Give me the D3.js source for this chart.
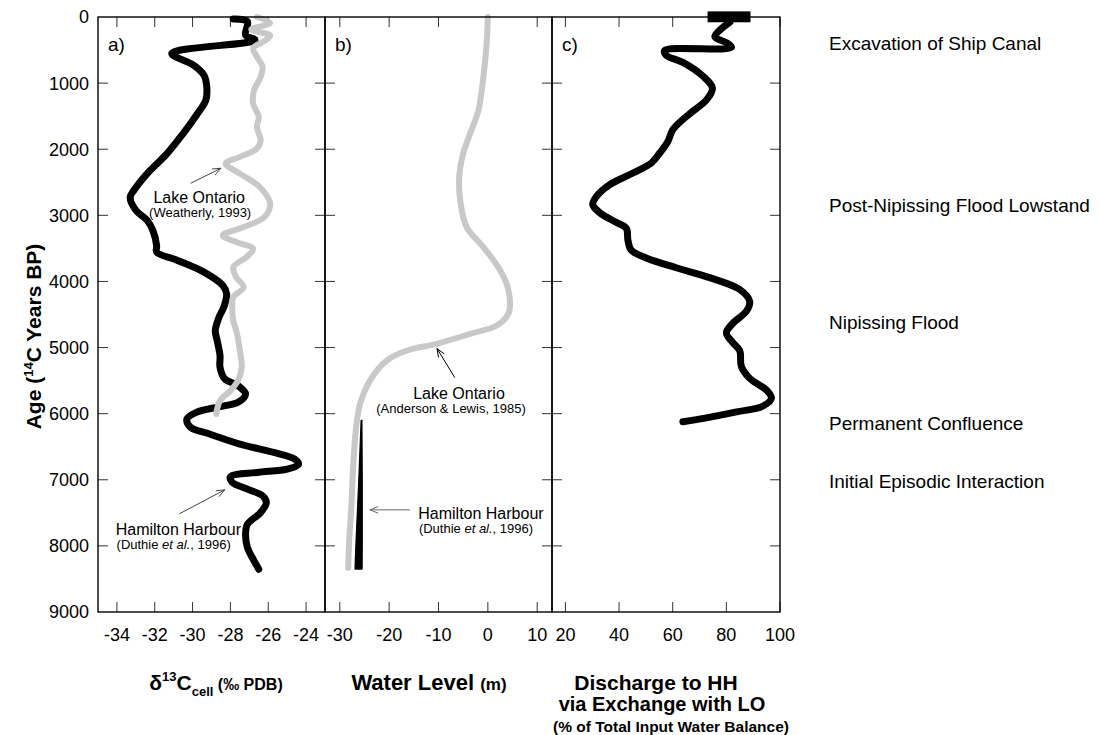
<!DOCTYPE html>
<html>
<head>
<meta charset="utf-8">
<script src="https://cdn.jsdelivr.net/npm/d3@7"></script>
<style>
  html, body { margin: 0; padding: 0; background: #fff; }
  svg { display: block; font-family: "Liberation Sans", Arial, sans-serif; }
</style>
</head>
<body>
<svg id="chart" width="1100" height="735"></svg>
<script>
// ---------------- DATA ----------------
const ageTicks = [0, 1000, 2000, 3000, 4000, 5000, 6000, 7000, 8000, 9000];
const ticksA = [-34, -32, -30, -28, -26, -24];
const ticksB = [-30, -20, -10, 0, 10];
const ticksC = [20, 40, 60, 80, 100];

// Panel a: d13C cell, Hamilton Harbour (Duthie et al., 1996) [age, value]
const hhD13C = [
  [30, -27.85], [70, -27.1], [273, -27.2], [348, -26.7], [550, -31.1], [727, -29.95],
  [879, -29.4], [1060, -29.25], [1258, -29.3], [1485, -29.8], [1763, -30.5],
  [2066, -31.35], [2368, -32.4], [2621, -33.1], [2727, -33.3], [2924, -33.0],
  [3076, -32.4], [3227, -32.1], [3460, -31.9], [3556, -31.9], [3682, -30.8],
  [3859, -29.4], [4061, -28.4], [4187, -28.2], [4389, -28.35], [4540, -28.6],
  [4742, -28.8], [4894, -28.7], [5121, -28.55], [5298, -28.55], [5475, -28.3],
  [5576, -27.6], [5702, -27.2], [5828, -27.6], [5894, -28.55], [5980, -29.8],
  [6081, -30.3], [6207, -30.1], [6308, -29.1], [6460, -27.5], [6586, -25.7],
  [6687, -24.6], [6763, -24.4], [6838, -25.0], [6889, -26.6], [6955, -28.0],
  [7040, -27.9], [7141, -27.1], [7242, -26.3], [7343, -26.1], [7495, -26.4],
  [7672, -27.1], [7823, -27.2], [8025, -27.1], [8202, -26.8], [8353, -26.5]
];
// Panel a: Lake Ontario (Weatherly, 1993) [age, value]
const loD13C = [
  [0, -26.6], [90, -25.9], [190, -26.9], [280, -25.9], [380, -26.3], [470, -26.8], [600, -26.6],
  [753, -26.3], [905, -26.4], [1107, -26.75], [1308, -26.8], [1510, -26.5],
  [1662, -26.6], [1864, -26.4], [1990, -26.6], [2116, -27.5], [2217, -28.25],
  [2369, -27.5], [2571, -26.45], [2823, -25.9], [3025, -26.2], [3177, -27.3],
  [3303, -28.4], [3404, -27.7], [3505, -26.8], [3631, -27.15], [3783, -27.85],
  [3934, -27.7], [4086, -27.3], [4237, -27.85], [4439, -27.9], [4591, -27.85],
  [4793, -27.65], [5045, -27.5], [5298, -27.4], [5500, -27.6], [5652, -28.0],
  [5803, -28.55], [6005, -28.75]
];
// Panel b: water level, Lake Ontario (Anderson & Lewis, 1985) [age, m]
const loLevel = [
  [0, 0], [399, -0.24], [904, -0.9], [1409, -1.9], [1763, -3.6], [2066, -5.0],
  [2419, -5.8], [2773, -5.6], [3177, -4.3], [3480, -0.9], [3783, 2.1], [4035, 3.8],
  [4338, 4.5], [4490, 4.15], [4667, 1.8], [4793, -3.6], [4944, -10.4], [5045, -16.4],
  [5197, -20.5], [5500, -23.9], [5854, -25.9], [6207, -26.7], [6813, -27.3],
  [7318, -27.6], [7924, -28.1], [8328, -28.3]
];
// Panel b: water level, Hamilton Harbour (Duthie et al., 1996) [age, m, half-range m]
const hhLevel = [
  [6100, -25.6, 0.08], [7000, -25.8, 0.35], [8000, -26.1, 0.65], [8350, -26.2, 0.72]
];
// Panel c: discharge to HH via exchange with LO (%) [age, %]
const discharge = [
  [78, 81.3], [299, 75.7], [388, 80.0], [460, 81.9], [508, 57.0], [579, 57.6],
  [687, 63.8], [896, 71.3], [1075, 74.8], [1254, 72.6], [1464, 66.3], [1702, 60.1],
  [1882, 58.2], [2061, 55.1], [2210, 52.0], [2360, 45.2], [2539, 36.4], [2718, 31.5],
  [2838, 30.2], [2957, 32.7], [3106, 38.9], [3196, 42.7], [3375, 43.3], [3524, 44.5],
  [3644, 50.1], [3793, 61.3], [3943, 73.8], [4122, 85.0], [4301, 88.7], [4450, 87.5],
  [4630, 82.5], [4779, 80.0], [4928, 82.5], [5048, 85.0], [5287, 85.6], [5466, 88.7],
  [5645, 95.0], [5765, 96.8], [5884, 93.7], [5974, 83.8], [6063, 72.6], [6123, 63.8]
];
// Panel c: modern (ship canal) range at age 0: [fromPct, toPct, ageTop, ageBottom]
const modernRange = [73, 89, -85, 80];

// Event labels [age, text]
const events = [
  [394, "Excavation of Ship Canal"],
  [2850, "Post-Nipissing Flood Lowstand"],
  [4620, "Nipissing Flood"],
  [6150, "Permanent Confluence"],
  [7015, "Initial Episodic Interaction"]
];

// ---------------- LAYOUT ----------------
const svg = d3.select("#chart");
const topY = 17, botY = 612;
const y = d3.scaleLinear().domain([0, 9000]).range([topY, botY]);
const xA = d3.scaleLinear().domain([-35, -23]).range([98, 325]);
const xB = d3.scaleLinear().domain([-33, 13]).range([325, 552]);
const xC = d3.scaleLinear().domain([15, 100]).range([552, 780]);
const panels = [
  { x: xA, ticks: ticksA, label: "a)" },
  { x: xB, ticks: ticksB, label: "b)" },
  { x: xC, ticks: ticksC, label: "c)" }
];
const TL = 10;
const fmt = d => String(d);

const frameG = svg.append("g");
panels.forEach(p => {
  const [x0, x1] = p.x.range();
  const g = frameG.append("g");
  g.selectAll(".tt").data(p.ticks).join("line")
    .attr("x1", d => p.x(d)).attr("x2", d => p.x(d))
    .attr("y1", topY).attr("y2", topY + TL)
    .attr("stroke", "#333").attr("stroke-width", 1);
  g.selectAll(".bt").data(p.ticks).join("line")
    .attr("x1", d => p.x(d)).attr("x2", d => p.x(d))
    .attr("y1", botY).attr("y2", botY - TL)
    .attr("stroke", "#333").attr("stroke-width", 1);
  const inner = ageTicks.slice(1, -1);
  g.selectAll(".lt").data(inner).join("line")
    .attr("x1", x0).attr("x2", x0 + TL)
    .attr("y1", d => y(d)).attr("y2", d => y(d))
    .attr("stroke", "#333").attr("stroke-width", 1);
  g.selectAll(".rt").data(inner).join("line")
    .attr("x1", x1).attr("x2", x1 - TL)
    .attr("y1", d => y(d)).attr("y2", d => y(d))
    .attr("stroke", "#333").attr("stroke-width", 1);
  g.selectAll(".bl").data(p.ticks).join("text")
    .attr("x", d => p.x(d)).attr("y", 641)
    .attr("text-anchor", "middle").attr("font-size", 18)
    .text(fmt);
  g.append("text").attr("x", x0 + 10).attr("y", 51)
    .attr("font-size", 19).text(p.label);
});

svg.append("g").selectAll("text").data(ageTicks).join("text")
  .attr("x", 89).attr("y", d => y(d)).attr("dy", "0.36em")
  .attr("text-anchor", "end").attr("font-size", 18).text(fmt);

const yt = svg.append("text")
  .attr("transform", `translate(41,${(topY + botY) / 2 + 22}) rotate(-90)`)
  .attr("text-anchor", "middle").attr("font-size", 21).attr("font-weight", "bold");
yt.append("tspan").text("Age (");
yt.append("tspan").attr("font-size", 13).attr("dy", -8).text("14");
yt.append("tspan").attr("dy", 8).text("C Years BP)");

// ---------------- SERIES ----------------
const curve = d3.curveCatmullRom.alpha(0.5);
function drawLine(data, xs, color, width) {
  svg.append("path").datum(data)
    .attr("d", d3.line().curve(curve).x(d => xs(d[1])).y(d => y(d[0])))
    .attr("fill", "none").attr("stroke", color).attr("stroke-width", width)
    .attr("stroke-linecap", "round").attr("stroke-linejoin", "round");
}
const GRAY = "#c8c8c8";
drawLine(hhD13C, xA, "#000", 7);
drawLine(loD13C, xA, GRAY, 6);

drawLine(loLevel, xB, GRAY, 6);
svg.append("path").datum(hhLevel)
  .attr("d", d3.area().curve(d3.curveLinear)
    .y(d => y(d[0])).x0(d => xB(d[1] - d[2])).x1(d => xB(d[1] + d[2])))
  .attr("fill", "#000").attr("stroke", "#000").attr("stroke-width", 1.2)
  .attr("stroke-linejoin", "round");

svg.append("rect")
  .attr("x", xC(modernRange[0])).attr("width", xC(modernRange[1]) - xC(modernRange[0]))
  .attr("y", y(modernRange[2])).attr("height", y(modernRange[3]) - y(modernRange[2]))
  .attr("fill", "#000");
drawLine(discharge, xC, "#000", 7);

panels.forEach(p => {
  const [x0, x1] = p.x.range();
  svg.append("rect").attr("x", x0).attr("y", topY)
    .attr("width", x1 - x0).attr("height", botY - topY)
    .attr("fill", "none").attr("stroke", "#000").attr("stroke-width", 1.4);
});

// ---------------- ANNOTATIONS ----------------
const arrows = [
  [xA, -30.1, 2515, -28.5, 2288, "#444"],
  [xA, -30.7, 7515, -28.3, 7152, "#444"],
  [xB, -6.7, 5455, -10.3, 5015, "#000"],
  [xB, -15.8, 7455, -23.9, 7455, "#666"]
];
arrows.forEach(([xs, tv, ta, hv, ha, col]) => {
  const x1 = xs(tv), y1 = y(ta), x2 = xs(hv), y2 = y(ha);
  const ang = Math.atan2(y2 - y1, x2 - x1);
  const L = 9, spread = 0.38;
  const g = svg.append("g").attr("stroke", col).attr("stroke-width", 1).attr("fill", "none");
  g.append("line").attr("x1", x1).attr("y1", y1).attr("x2", x2).attr("y2", y2);
  g.append("path").attr("d",
    `M${x2 - L * Math.cos(ang - spread)},${y2 - L * Math.sin(ang - spread)}L${x2},${y2}L${x2 - L * Math.cos(ang + spread)},${y2 - L * Math.sin(ang + spread)}`);
});

const notes = [
  [xA, -29.65, 2727, [["Lake Ontario"]], 16],
  [xA, -29.6, 2955, [["(Weatherly, 1993)"]], 13],
  [xA, -30.75, 7742, [["Hamilton Harbour"]], 16],
  [xA, -31.0, 7970, [["(Duthie "], ["et al.", "italic"], [", 1996)"]], 13],
  [xB, -5.85, 5697, [["Lake Ontario"]], 16],
  [xB, -7.45, 5924, [["(Anderson & Lewis, 1985)"]], 13],
  [xB, -1.4, 7500, [["Hamilton Harbour"]], 16],
  [xB, -2.4, 7727, [["(Duthie "], ["et al.", "italic"], [", 1996)"]], 13]
];
notes.forEach(([xs, v, a, parts, size]) => {
  const t = svg.append("text").attr("x", xs(v)).attr("y", y(a)).attr("dy", "0.36em")
    .attr("text-anchor", "middle").attr("font-size", size);
  parts.forEach(([s, st]) => {
    const ts = t.append("tspan").text(s);
    if (st) ts.attr("font-style", st);
  });
});

svg.append("g").selectAll("text").data(events).join("text")
  .attr("x", xC.range()[1] + 49).attr("y", d => y(d[0])).attr("dy", "0.36em")
  .attr("font-size", 19).text(d => d[1]);

// ---------------- AXIS TITLES ----------------
const t1 = svg.append("text").attr("x", 216).attr("y", 690)
  .attr("text-anchor", "middle").attr("font-weight", "bold").attr("font-size", 21);
t1.append("tspan").text("δ");
t1.append("tspan").attr("font-size", 13).attr("dy", -9).text("13");
t1.append("tspan").attr("dy", 9).text("C");
t1.append("tspan").attr("font-size", 13).attr("dy", 6).text("cell");
t1.append("tspan").attr("font-size", 16).attr("dy", -6).text(" (‰ PDB)");

const t2 = svg.append("text").attr("x", 429).attr("y", 690)
  .attr("text-anchor", "middle").attr("font-weight", "bold").attr("font-size", 22);
t2.append("tspan").text("Water Level ");
t2.append("tspan").attr("font-size", 17).text("(m)");

svg.append("text").attr("x", 656).attr("y", 690).attr("text-anchor", "middle")
  .attr("font-weight", "bold").attr("font-size", 21).text("Discharge to HH");
svg.append("text").attr("x", 662).attr("y", 711).attr("text-anchor", "middle")
  .attr("font-weight", "bold").attr("font-size", 20).text("via Exchange with LO");
svg.append("text").attr("x", 671).attr("y", 732).attr("text-anchor", "middle")
  .attr("font-weight", "bold").attr("font-size", 15.5).text("(% of Total Input Water Balance)");
</script>
</body>
</html>
